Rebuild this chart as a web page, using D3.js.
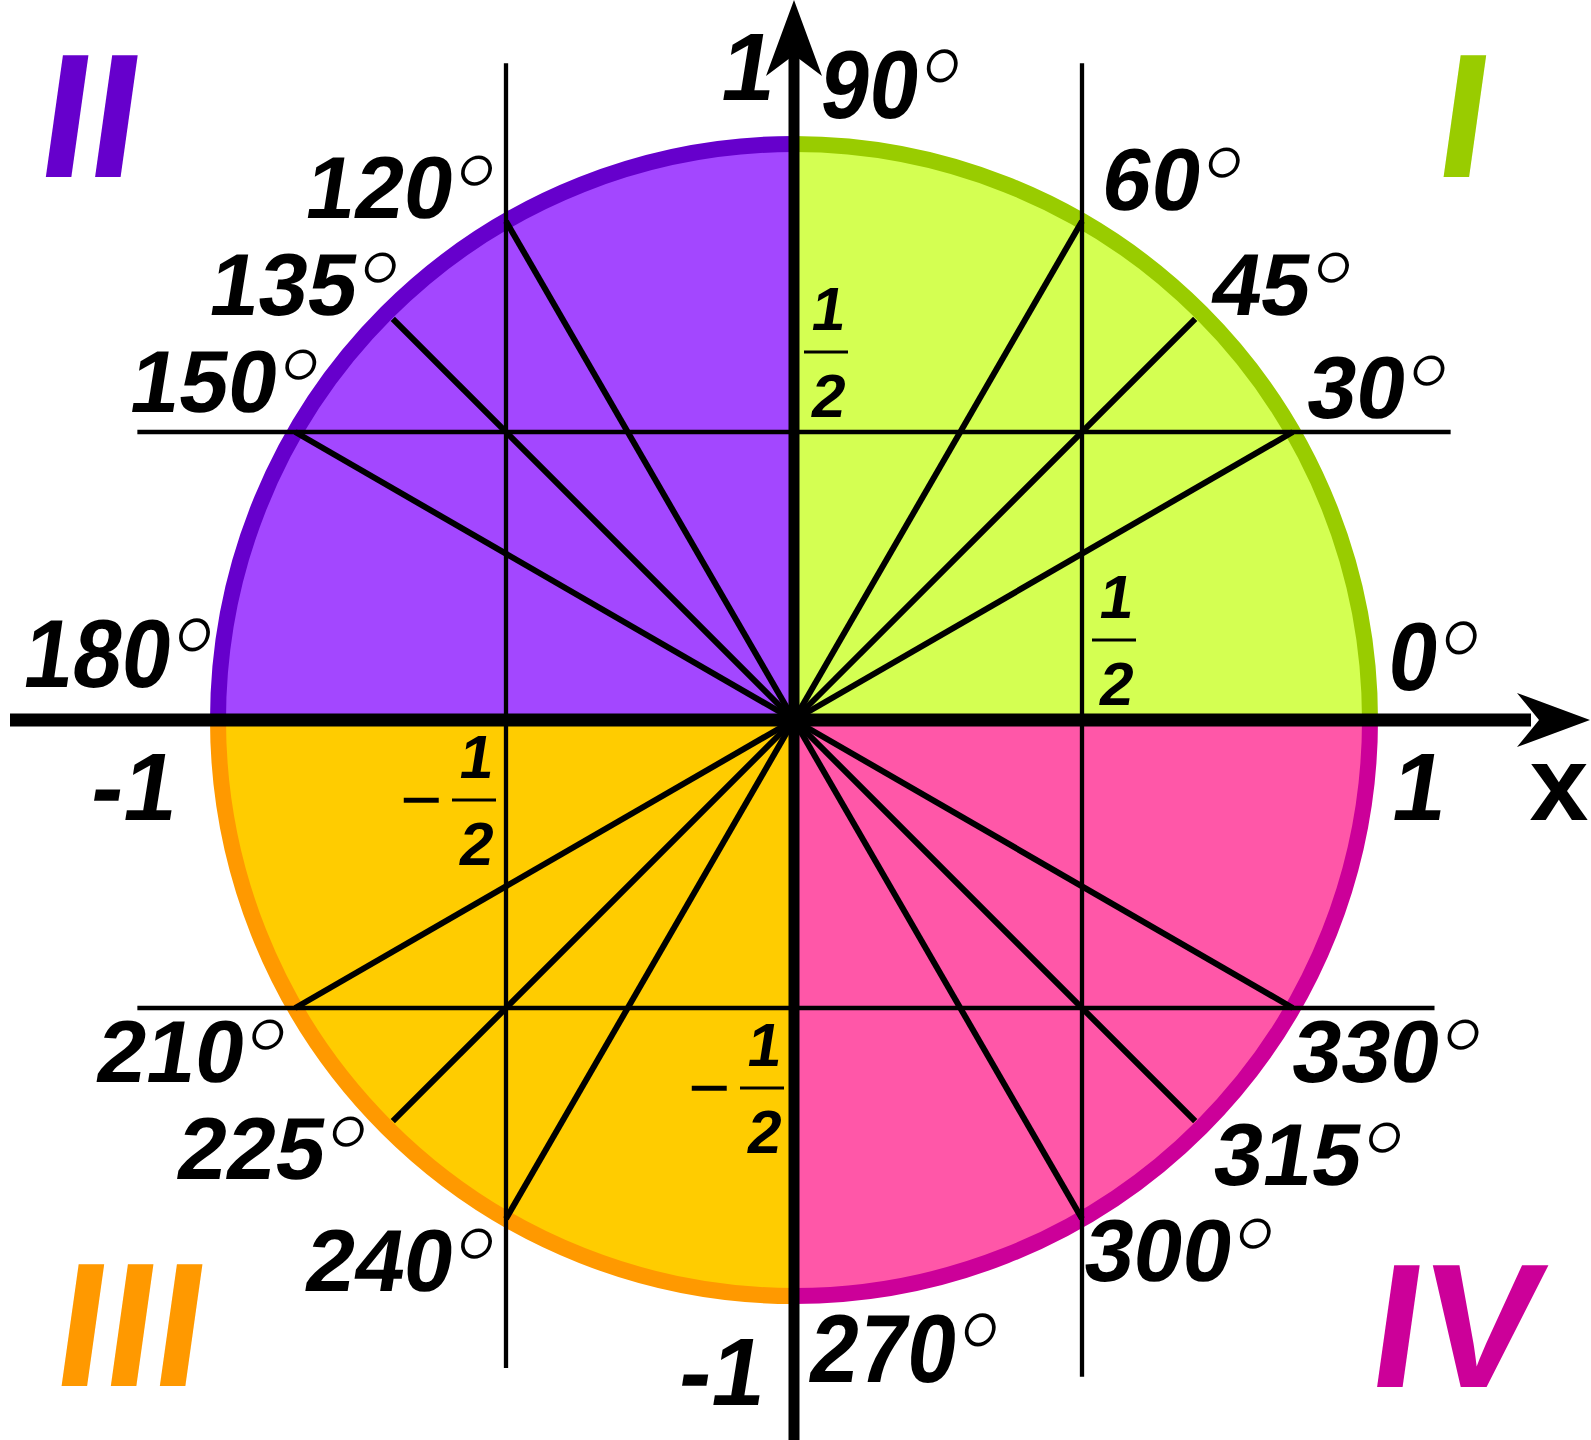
<!DOCTYPE html>
<html>
<head>
<meta charset="utf-8">
<title>Unit circle</title>
<script src="https://cdn.jsdelivr.net/npm/d3@7"></script>
<style>
    body { margin: 0; background: #fff; }
    svg { display: block; }
    .lbl { font-family: "Liberation Sans", Arial, sans-serif; font-weight: bold; fill: #000; }
    .deg { font-family: Lato, "Liberation Sans", sans-serif; font-weight: 300; }
</style>
</head>
<body>
<div id="chart"></div>
<script>
    // angles that get a label on the circle
    var angles = [0, 30, 45, 60, 90, 120, 135, 150, 180, 210, 225, 240, 270, 300, 315, 330];
    var angleText = ["0", "30", "45", "60", "90", "120", "135", "150", "180", "210", "225", "240", "270", "300", "315", "330"];

    // rays from the origin and how far they reach (unit = radius)
    var rayAngles = [30, 45, 60, 120, 135, 150, 210, 225, 240, 300, 315, 330];
    var rayLength = [1, 0.985, 1, 1, 0.985, 1, 1, 0.985, 1, 1, 0.985, 1];

    // guide lines at +-1/2
    var guides = [-0.5, 0.5];
    var vertReach = [[1.14, -1.125], [1.14, -1.14]];
    var horizReach = [[-1.14, 1.112], [-1.14, 1.14]];

    // quadrants
    var quadrantNames = ["I", "II", "III", "IV"];
    var quadrantFill = ["#d4ff52", "#a347ff", "#ffcc00", "#ff57a8"];
    var quadrantEdge = ["#99cc00", "#6600cc", "#ff9900", "#cc0099"];

    // axis tick labels
    var xTicks = [-1, 1];
    var xTickText = ["-1", "1"];
    var yTicks = [1, -1];
    var yTickText = ["1", "-1"];

    // the 1/2 fractions: where they sit and their sign
    var fracAt = [[0, 0.5], [0.5, 0], [-0.5, 0], [0, -0.5]];
    var fracSign = [1, 1, -1, -1];

    // ---- layout ----
    var W = 1591, H = 1440;
    var x = d3.scaleLinear().domain([-1, 1]).range([218, 1370]);
    var y = d3.scaleLinear().domain([-1, 1]).range([1296, 144]);
    var rx = x(1) - x(0), ry = y(0) - y(1);

    // label offsets from the point on the circle: [anchor, dx, dy, tall]
    var angleLayout = {
        0: ["start", 15, -30, 1], 30: ["start", 11, -14, 0], 45: ["start", 7, 2, 0],
        60: ["start", 17, -11, 0], 90: ["start", 23, -26, 1], 120: ["end", -16, -3, 0],
        135: ["end", 7, 2, 0], 150: ["end", 19, -20, 0], 180: ["end", -10, -33, 1],
        210: ["end", -14, 74, 0], 225: ["end", -25, 52, 0], 240: ["end", -16, 72, 0],
        270: ["start", 12, 86, 1], 300: ["start", -1, 62, 0], 315: ["start", 9, 58, 0],
        330: ["start", -4, 74, 0]
    };
    var quadLabelAt = [[1.15, 0.943], [-1.234, 0.943], [-1.164, -1.157], [1.137, -1.158]];
    var xTickOffset = [[-88, 100], [45, 100]];
    var yTickOffset = [[-50, -44], [-76, 109]];

    function rad(a) { return a * Math.PI / 180; }
    function px(a, r) { return x(r * Math.cos(rad(a))); }
    function py(a, r) { return y(r * Math.sin(rad(a))); }

    var svg = d3.select("#chart").append("svg")
        .attr("width", W)
        .attr("height", H);

    // quadrant fills
    svg.append("g").selectAll("path")
        .data(quadrantNames)
        .join("path")
        .attr("d", function (d, i) {
            var a0 = i * 90, a1 = a0 + 90;
            return "M" + x(0) + "," + y(0) + "L" + px(a0, 1) + "," + py(a0, 1) +
                "A" + rx + "," + ry + " 0 0 0 " + px(a1, 1) + "," + py(a1, 1) + "Z";
        })
        .attr("fill", function (d, i) { return quadrantFill[i]; });

    // quadrant rims
    svg.append("g").selectAll("path")
        .data(quadrantNames)
        .join("path")
        .attr("d", function (d, i) {
            var a0 = i * 90, a1 = a0 + 90;
            return "M" + px(a0, 1) + "," + py(a0, 1) +
                "A" + rx + "," + ry + " 0 0 0 " + px(a1, 1) + "," + py(a1, 1);
        })
        .attr("fill", "none")
        .attr("stroke", function (d, i) { return quadrantEdge[i]; })
        .attr("stroke-width", 16);

    // guide lines
    var gg = svg.append("g").attr("stroke", "#000").attr("stroke-width", 4.3);
    gg.selectAll(".v").data(guides).join("line")
        .attr("class", "v")
        .attr("x1", function (d) { return x(d); })
        .attr("x2", function (d) { return x(d); })
        .attr("y1", function (d, i) { return y(vertReach[i][0]); })
        .attr("y2", function (d, i) { return y(vertReach[i][1]); });
    gg.selectAll(".h").data(guides).join("line")
        .attr("class", "h")
        .attr("y1", function (d) { return y(d); })
        .attr("y2", function (d) { return y(d); })
        .attr("x1", function (d, i) { return x(horizReach[i][0]); })
        .attr("x2", function (d, i) { return x(horizReach[i][1]); });

    // rays
    svg.append("g").selectAll("line")
        .data(rayAngles)
        .join("line")
        .attr("x1", x(0))
        .attr("y1", y(0))
        .attr("x2", function (d, i) { return px(d, rayLength[i]); })
        .attr("y2", function (d, i) { return py(d, rayLength[i]); })
        .attr("stroke", "#000")
        .attr("stroke-width", 6);

    // axes with arrows
    var ax = svg.append("g");
    ax.append("line")
        .attr("x1", 10).attr("x2", W - 60)
        .attr("y1", y(0)).attr("y2", y(0))
        .attr("stroke", "#000").attr("stroke-width", 13);
    ax.append("path")
        .attr("d", "M" + (W - 1) + "," + y(0) + "L" + (W - 74) + "," + (y(0) - 27) +
            "L" + (W - 52) + "," + y(0) + "L" + (W - 74) + "," + (y(0) + 27) + "Z")
        .attr("fill", "#000");
    ax.append("line")
        .attr("x1", x(0)).attr("x2", x(0))
        .attr("y1", H).attr("y2", 30)
        .attr("stroke", "#000").attr("stroke-width", 11);
    ax.append("path")
        .attr("d", "M" + x(0) + ",0L" + (x(0) - 28) + ",76L" + x(0) + ",55L" + (x(0) + 28) + ",76Z")
        .attr("fill", "#000");

    // angle labels
    var al = svg.append("g").selectAll("text")
        .data(angles)
        .join("text")
        .attr("class", "lbl")
        .attr("text-anchor", function (d) { return angleLayout[d][0]; })
        .attr("font-size", 88)
        .attr("transform", function (d) {
            var L = angleLayout[d];
            return "translate(" + (px(d, 1) + L[1]) + "," + (py(d, 1) + L[2]) + ")" +
                (L[3] ? " scale(1,1.1)" : "") + " skewX(-9)";
        });
    al.append("tspan").text(function (d, i) { return angleText[i]; });
    al.append("tspan").attr("class", "deg").attr("font-size", "1.15em")
        .attr("dx", -1).attr("dy", 10).text("°");

    // quadrant numerals
    svg.append("g").selectAll("text")
        .data(quadrantNames)
        .join("text")
        .attr("class", "lbl")
        .attr("text-anchor", "middle")
        .attr("font-size", 177)
        .style("fill", function (d, i) { return quadrantEdge[i]; })
        .attr("transform", function (d, i) {
            return "translate(" + x(quadLabelAt[i][0]) + "," + y(quadLabelAt[i][1]) + ") skewX(-8)";
        })
        .text(function (d) { return d; });

    // axis tick labels
    svg.append("g").selectAll("text")
        .data(xTicks)
        .join("text")
        .attr("class", "lbl")
        .attr("text-anchor", "middle")
        .attr("font-size", 96)
        .attr("transform", function (d, i) {
            return "translate(" + (x(d) + xTickOffset[i][0]) + "," + (y(0) + xTickOffset[i][1]) + ") skewX(-9)";
        })
        .text(function (d, i) { return xTickText[i]; });
    svg.append("g").selectAll("text")
        .data(yTicks)
        .join("text")
        .attr("class", "lbl")
        .attr("text-anchor", "middle")
        .attr("font-size", 96)
        .attr("transform", function (d, i) {
            return "translate(" + (x(0) + yTickOffset[i][0]) + "," + (y(d) + yTickOffset[i][1]) + ") skewX(-9)";
        })
        .text(function (d, i) { return yTickText[i]; });

    // axis name
    svg.append("text")
        .attr("class", "lbl")
        .attr("text-anchor", "middle")
        .attr("font-size", 106)
        .attr("x", W - 32)
        .attr("y", y(0) + 100)
        .text("x");

    // fractions 1/2
    var fr = svg.append("g").selectAll("g")
        .data(fracAt)
        .join("g")
        .attr("transform", function (d, i) {
            var s = fracSign[i];
            return "translate(" + (x(d[0]) + 32 * s) + "," + (y(d[1]) - 80 * s) + ")";
        });
    fr.append("line")
        .attr("x1", -22).attr("x2", 22)
        .attr("stroke", "#000").attr("stroke-width", 3);
    fr.append("text")
        .attr("class", "lbl").attr("text-anchor", "middle").attr("font-size", 61)
        .attr("transform", "translate(0,-22) skewX(-9)")
        .text("1");
    fr.append("text")
        .attr("class", "lbl").attr("text-anchor", "middle").attr("font-size", 61)
        .attr("transform", "translate(0,65) skewX(-9)")
        .text("2");
    fr.filter(function (d, i) { return fracSign[i] < 0; })
        .append("text")
        .attr("class", "lbl").attr("text-anchor", "middle").attr("font-size", 72)
        .style("font-weight", "normal")
        .attr("x", -53).attr("y", 24)
        .text("−");
</script>
</body>
</html>
